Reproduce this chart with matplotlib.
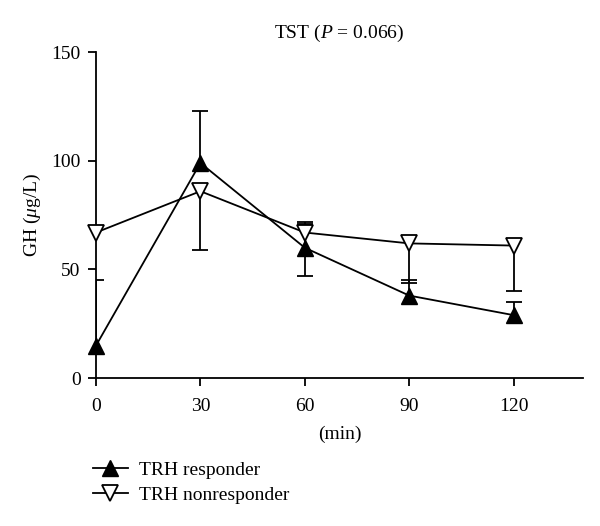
import matplotlib
matplotlib.use("Agg")
import matplotlib.pyplot as plt
import numpy as np

plt.rcParams['font.family'] = ['Liberation Serif', 'DejaVu Serif']
plt.rcParams['mathtext.fontset'] = 'custom'
plt.rcParams['mathtext.it'] = 'Liberation Serif:italic'
plt.rcParams['mathtext.rm'] = 'Liberation Serif'

# data
minutes = np.array([0, 30, 60, 90, 120])
responder = np.array([15, 99, 60, 38, 29])
resp_up = np.array([30, 24, 11, 7, 6])
resp_down = np.array([0, 0, 13, 0, 0])
nonresponder = np.array([67, 86, 67, 62, 61])
non_up = np.array([0, 0, 5, 0, 0])
non_down = np.array([0, 27, 0, 18, 21])

fig = plt.figure(figsize=(6.0, 5.26), dpi=100)
ax = fig.add_axes([0.16, 0.281, 0.812, 0.62])


def one_sided(x, y, up, down):
    # upper bars, lower cap hidden
    i = up > 0
    if i.any():
        _, caps, bars = ax.errorbar(x[i], y[i], yerr=[np.zeros(i.sum()), up[i]],
                                    fmt='none', ecolor='black', elinewidth=1.3,
                                    capsize=6, capthick=1.3, zorder=2)
        caps[0].set_visible(False)
    # lower bars, upper cap hidden
    i = down > 0
    if i.any():
        _, caps, bars = ax.errorbar(x[i], y[i], yerr=[down[i], np.zeros(i.sum())],
                                    fmt='none', ecolor='black', elinewidth=1.3,
                                    capsize=6, capthick=1.3, zorder=2)
        caps[1].set_visible(False)


one_sided(minutes, responder, resp_up, resp_down)
one_sided(minutes, nonresponder, non_up, non_down)

ax.plot(minutes, responder, color='black', lw=1.3, marker='^', ms=12,
        mfc='black', mec='black', label='TRH responder', zorder=3, clip_on=False)
ax.plot(minutes, nonresponder, color='black', lw=1.3, marker='v', ms=12,
        mfc='white', mec='black', mew=1.3, label='TRH nonresponder', zorder=3,
        clip_on=False)

ax.set_xlim(0, 140)
ax.set_ylim(0, 150)
ax.set_xticks(minutes)
ax.set_yticks([0, 50, 100, 150])
ax.spines['top'].set_visible(False)
ax.spines['right'].set_visible(False)
ax.spines['left'].set_linewidth(1.3)
ax.spines['bottom'].set_linewidth(1.3)
ax.tick_params(direction='out', length=6, width=1.3, labelsize=14)
ax.tick_params(axis='x', pad=8)
ax.tick_params(axis='y', pad=5)

ax.set_title('TST ($P$ = 0.066)', fontsize=14, pad=10)
ax.set_ylabel('GH ($\\mu$g/L)', fontsize=14, labelpad=6)
ax.set_xlabel('(min)', fontsize=14, labelpad=8)

fig.legend(loc='lower left', bbox_to_anchor=(0.125, 0.008), frameon=False,
           fontsize=14, handlelength=1.8, handletextpad=0.6, labelspacing=0.4)

fig.savefig('out.png', dpi=100)
